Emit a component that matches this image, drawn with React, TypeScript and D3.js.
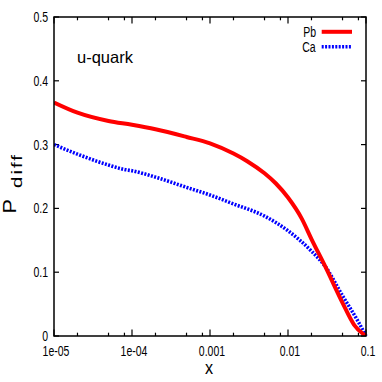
import React from "react";
import * as d3 from "d3";

const xPb = [1e-5, 2e-5, 5e-5, 1e-4, 2e-4, 5e-4, 1e-3, 2e-3, 3e-3, 5e-3, 7e-3, 0.01, 0.015, 0.02, 0.03, 0.05, 0.07, 0.1];
const pbValues = [0.366, 0.35, 0.337, 0.331, 0.324, 0.312, 0.302, 0.286, 0.274, 0.255, 0.239, 0.217, 0.184, 0.152, 0.109, 0.052, 0.018, 0.0];

const xCa = [1e-5, 2e-5, 5e-5, 8e-5, 1e-4, 2e-4, 5e-4, 1e-3, 2e-3, 5e-3, 0.01, 0.02, 0.03, 0.05, 0.08, 0.1];
const caValues = [0.3, 0.285, 0.268, 0.261, 0.259, 0.249, 0.233, 0.221, 0.207, 0.188, 0.165, 0.133, 0.109, 0.063, 0.022, 0.0];

const xTicks = [1e-5, 1e-4, 1e-3, 1e-2, 0.1];
const xTickLabels = ["1e-05", "1e-04", "0.001", "0.01", "0.1"];
const yTicks = [0, 0.1, 0.2, 0.3, 0.4, 0.5];
const yTickLabels = ["0", "0.1", "0.2", "0.3", "0.4", "0.5"];
const minorFactors = [2, 5, 8];

const FONT = "'Liberation Sans', Arial, sans-serif";

// narrow text, the tick labels look horizontally squeezed
const SText = (props: any) => {
  const { x, y, fs, sx = 0.75, anchor = "middle", children } = props;
  return (
    <g transform={`translate(${x},${y}) scale(${sx},1)`}>
      <text textAnchor={anchor} fontSize={fs} fontFamily={FONT} fill="#000">
        {children}
      </text>
    </g>
  );
};

const App = () => {
  const margin = { left: 54, right: 366, top: 17, bottom: 336 };

  const xScale = d3.scaleLog().domain([1e-5, 0.1]).range([margin.left, margin.right]);
  const yScale = d3.scaleLinear().domain([0, 0.5]).range([margin.bottom, margin.top]);

  const line = d3
    .line<[number, number]>()
    .x((d) => xScale(d[0]))
    .y((d) => yScale(d[1]))
    .curve(d3.curveMonotoneX);

  const pbPath = line(xPb.map((x, i) => [x, pbValues[i]]) as [number, number][]);
  const caPath = line(xCa.map((x, i) => [x, caValues[i]]) as [number, number][]);

  const minorTicks: number[] = [];
  xTicks.slice(0, -1).forEach((d) => minorFactors.forEach((f) => minorTicks.push(d * f)));

  return (
    <svg width={382} height={382} style={{ position: "absolute", left: 0, top: 0, background: "white" }}>
      <defs>
        <clipPath id="plot">
          <rect x={margin.left} y={margin.top - 2} width={margin.right - margin.left + 2} height={margin.bottom - margin.top + 2} />
        </clipPath>
      </defs>

      {/* x ticks bottom + top mirror */}
      <g stroke="#000" strokeWidth={1.2}>
        {xTicks.map((t) => (
          <g key={"mx" + t}>
            <line x1={xScale(t)} x2={xScale(t)} y1={margin.bottom} y2={margin.bottom - 6.5} />
            <line x1={xScale(t)} x2={xScale(t)} y1={margin.top} y2={margin.top + 6.5} />
          </g>
        ))}
        {minorTicks.map((t) => (
          <g key={"mn" + t}>
            <line x1={xScale(t)} x2={xScale(t)} y1={margin.bottom} y2={margin.bottom - 3.3} />
            <line x1={xScale(t)} x2={xScale(t)} y1={margin.top} y2={margin.top + 3.3} />
          </g>
        ))}
        {yTicks.map((t) => (
          <g key={"y" + t}>
            <line x1={margin.left} x2={margin.left + 5} y1={yScale(t)} y2={yScale(t)} />
            <line x1={margin.right} x2={margin.right - 5} y1={yScale(t)} y2={yScale(t)} />
          </g>
        ))}
      </g>

      {/* tick labels */}
      {xTicks.map((t, i) => (
        <SText key={"xl" + t} x={xScale(t) + 2} y={355.5} fs={14}>
          {xTickLabels[i]}
        </SText>
      ))}
      {yTicks.map((t, i) => (
        <SText key={"yl" + t} x={48} y={yScale(t) + 5} fs={14} anchor="end">
          {yTickLabels[i]}
        </SText>
      ))}

      {/* curves */}
      <g clipPath="url(#plot)" fill="none">
        <path d={caPath || ""} stroke="#0000ff" strokeWidth={3.6} strokeDasharray="2,1.4" />
        <path d={pbPath || ""} stroke="#ff0000" strokeWidth={4} />
      </g>

      {/* frame */}
      <rect
        x={margin.left}
        y={margin.top}
        width={margin.right - margin.left}
        height={margin.bottom - margin.top}
        fill="none"
        stroke="#000"
        strokeWidth={1.5}
      />

      {/* u-quark label */}
      <text x={77} y={63.3} fontSize={16.5} fontFamily={FONT} fill="#000">
        u-quark
      </text>

      {/* legend */}
      <SText x={316} y={36.7} fs={14} anchor="end">
        Pb
      </SText>
      <line x1={321.7} x2={352} y1={31.8} y2={31.8} stroke="#ff0000" strokeWidth={4} />
      <SText x={315.7} y={51.5} fs={14} anchor="end">
        Ca
      </SText>
      <line x1={321.7} x2={351} y1={46.8} y2={46.8} stroke="#0000ff" strokeWidth={3.6} strokeDasharray="2,1.4" />

      {/* axis titles */}
      <SText x={209} y={374} fs={18} sx={0.9}>
        x
      </SText>
      <g transform="translate(15.5,213.5) rotate(-90) scale(1.2,1)">
        <text fontSize={18} fontFamily={FONT} fill="#000">
          P
        </text>
      </g>
      <g transform="translate(22,188) rotate(-90) scale(1.4,1)">
        <text fontSize={14.5} fontFamily={FONT} fill="#000" letterSpacing={1.5}>
          diff
        </text>
      </g>
    </svg>
  );
};

export default App;
